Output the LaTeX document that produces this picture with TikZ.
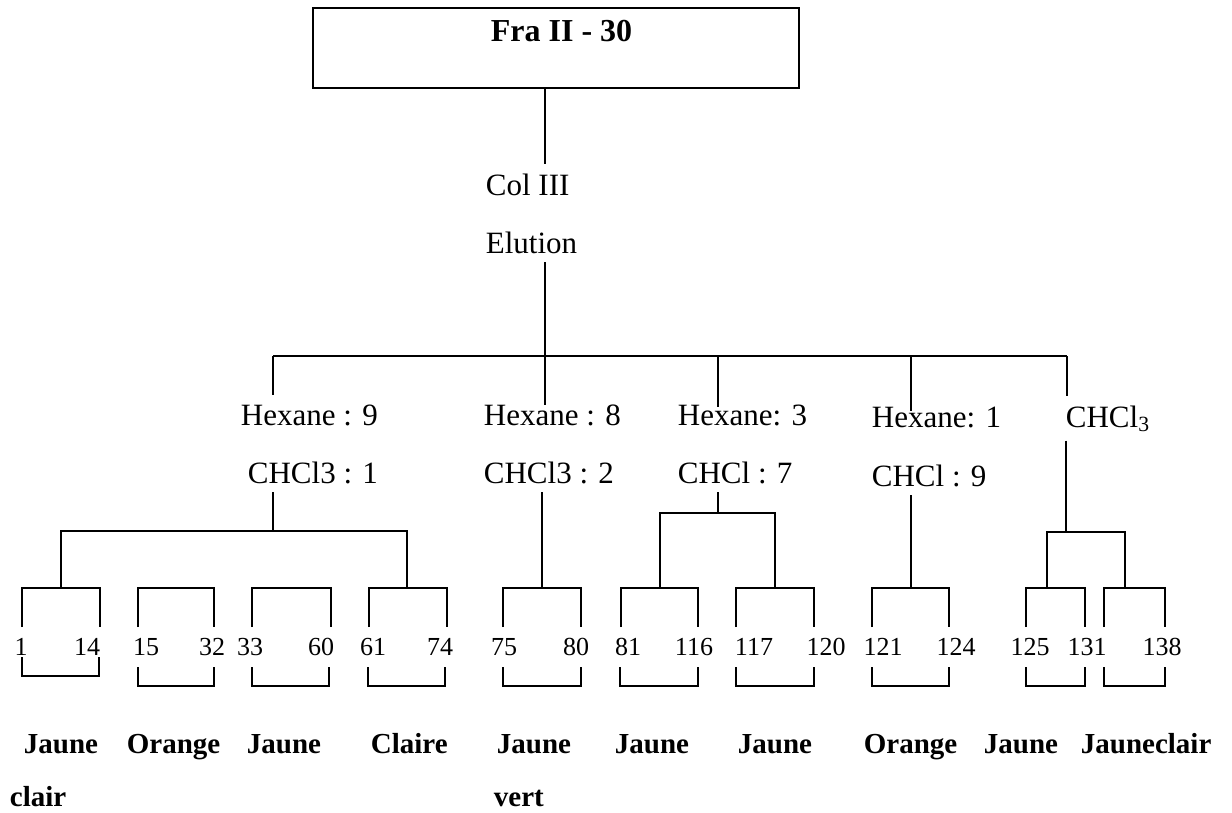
\documentclass[tikz,border=0pt]{standalone}
\usepackage{fontspec}
\setmainfont{Liberation Serif}
\usetikzlibrary{calc}
\begin{document}
\begin{tikzpicture}[x=0.5pt, y=-0.5pt, line width=0.9pt,
    lbl/.style={anchor=base west, inner sep=0pt, outer ysep=4.5pt, font=\fontsize{15.5}{18}\selectfont},
    num/.style={anchor=base, inner sep=0pt, font=\fontsize{13}{15}\selectfont},
    tint/.style={anchor=base west, inner sep=0pt, font=\fontsize{14.5}{17}\selectfont\bfseries}]
    \useasboundingbox (0,0) rectangle (1232,813);
    % fraction and column
    \node (frac) at (556,48) [draw, minimum width=243pt, minimum height=40pt] {};
    \node (fractitle) at (490,42) [lbl, font=\fontsize{16}{19}\selectfont\bfseries] {Fra II - 30};
    \node (col) at (485,195) [lbl] {Col III};
    \node (elu) at (485,253) [lbl] {Elution};
    % solvent systems
    \node (hexa) at (240,425) [lbl] {Hexane : 9};
    \node (chla) at (247,483) [lbl] {CHCl3 : 1};
    \node (hexb) at (483,425) [lbl] {Hexane : 8};
    \node (chlb) at (483,483) [lbl] {CHCl3 : 2};
    \node (hexc) at (677,425) [lbl] {Hexane: 3};
    \node (chlc) at (677,483) [lbl] {CHCl : 7};
    \node (hexd) at (871,427) [lbl] {Hexane: 1};
    \node (chld) at (871,486) [lbl] {CHCl : 9};
    \node (chle) at (1065,427) [lbl] {CHCl\textsubscript{3}};
    % main bus
    \coordinate (trunk) at (545,356);
    \coordinate (ja) at (273,356);
    \coordinate (jc) at (718,356);
    \coordinate (jd) at (911,356);
    \coordinate (je) at (1067,356);
    \draw (frac.south -| trunk) -- (col.north -| trunk);
    \draw (elu.south -| trunk) -- ($(hexb.north -| trunk)+(0,10)$);
    \draw (ja) -- (je);
    \draw (ja) -- (hexa.north -| ja);
    \draw (jc) -- ($(hexc.north -| jc)+(0,12)$);
    \draw (jd) -- ($(hexd.north -| jd)+(0,13)$);
    \draw (je) -- (chle.north -| je);
    % fraction brackets
    \foreach \l/\m/\r [count=\i] in {22/61/100, 138/176/214, 252/291/331, 369/407/447, 503/542/581, 621/660/698, 736/775/814, 872/911/949, 1026/1047/1085, 1104/1125/1165} {
      \coordinate (up\i) at (\m,588);
      \coordinate (tl\i) at (\l,627);
      \coordinate (tr\i) at (\r,627);
      \draw (tl\i) |- (up\i) -| (tr\i);
    }
    \coordinate (ka) at (273,531);
    \draw (chla.south -| ka) -- (ka);
    \draw (up1) |- (ka) -| (up4);
    \draw (chlb.south -| up5) -- (up5);
    \coordinate (kc) at (718,513);
    \draw (chlc.south -| kc) -- (kc);
    \draw (up6) |- (kc) -| (up7);
    \draw (chld.south -| up8) -- (up8);
    \coordinate (ke) at (1066,532);
    \draw (chle.south -| ke) -- (ke);
    \draw (up9) |- (ke) -| (up10);
    % tube numbers
    \foreach \x/\n [count=\i] in {21/1, 87/14, 146/15, 212/32, 250/33, 321/60, 373/61, 440/74, 504/75, 576/80, 628/81, 694/116, 754/117, 826/120, 883/121, 956/124, 1030/125, 1087/131, 1162/138}
      \node (n\i) at (\x,655) [num] {\n};
    \foreach \l/\r/\t [count=\i] in {22/99/657, 138/214/667, 252/329/667, 368/445/667, 503/581/667, 620/698/667, 736/814/667, 872/949/667, 1026/1085/667, 1104/1165/667} {
      \coordinate (bl\i) at (\l,\t);
      \coordinate (br\i) at (\r,\t);
      \coordinate (bm\i) at ({(\l+\r)/2},\t+19);
      \draw (bl\i) |- (bm\i) -| (br\i);
    }
    % colours
    \foreach \x/\w [count=\i] in {23/Jaune, 126/Orange, 246/Jaune, 370/Claire, 496/Jaune, 614/Jaune, 737/Jaune, 863/Orange, 983/Jaune, 1080/Jauneclair}
      \node (c\i) at (\x,753) [tint] {\w};
    \node (clair) at (9,806) [tint] {clair};
    \node (vert) at (493,806) [tint] {vert};
\end{tikzpicture}
\end{document}
